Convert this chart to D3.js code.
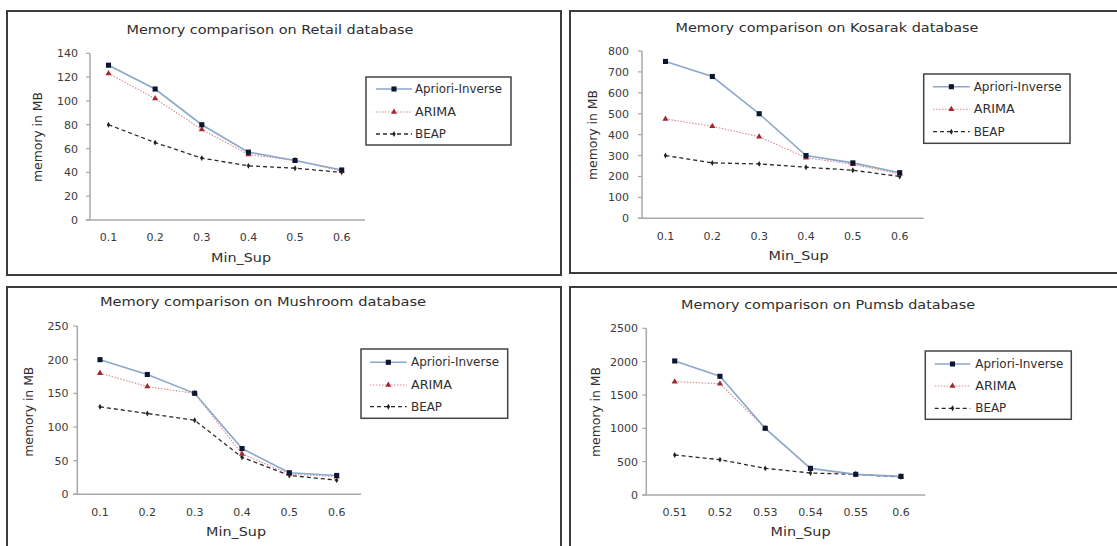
<!DOCTYPE html>
<html><head><meta charset="utf-8">
<script src="https://cdn.jsdelivr.net/npm/d3@7"></script>
<style>html,body{margin:0;padding:0;background:#fff;overflow:hidden}</style>
</head><body>
<svg id="c" width="1117" height="546"></svg>
<script>
// ---------- DATA ----------
const seriesNames = ["Apriori-Inverse", "ARIMA", "BEAP"];
const minSupA = ["0.1", "0.2", "0.3", "0.4", "0.5", "0.6"];
const minSupPumsb = ["0.51", "0.52", "0.53", "0.54", "0.55", "0.6"];

const retailApriori = [130, 110, 80, 57, 50, 42];
const retailArima   = [123, 102, 76, 55, 50, 41];
const retailBeap    = [80, 65, 52, 45.5, 43.5, 40];
const retailTicks   = [0, 20, 40, 60, 80, 100, 120, 140];

const kosarakApriori = [750, 678, 500, 300, 265, 218];
const kosarakArima   = [475, 440, 390, 290, 258, 212];
const kosarakBeap    = [300, 265, 260, 244, 230, 200];
const kosarakTicks   = [0, 100, 200, 300, 400, 500, 600, 700, 800];

const mushroomApriori = [200, 178, 150, 68, 32, 28];
const mushroomArima   = [180, 160, 150, 60, 30, 26];
const mushroomBeap    = [130, 120, 110, 55, 28, 21];
const mushroomTicks   = [0, 50, 100, 150, 200, 250];

const pumsbApriori = [2010, 1780, 1000, 400, 310, 280];
const pumsbArima   = [1700, 1670, 1000, 390, 310, 275];
const pumsbBeap    = [600, 530, 400, 330, 310, 270];
const pumsbTicks   = [0, 500, 1000, 1500, 2000, 2500];

const titles = ["Memory comparison on Retail database", "Memory comparison on Kosarak database",
                "Memory comparison on Mushroom database", "Memory comparison on Pumsb database"];

// ---------- LAYOUT ----------
const panels = [
  {title: titles[0], cats: minSupA, series: [retailApriori, retailArima, retailBeap], ticks: retailTicks,
   box: [7, 11, 554, 264], yAxisX: 90, xEnd: 365, pts: [108.5, 341.7], y: [220, 53.3], tickLabX: 78,
   titleP: [270, 29, 287], yLab: [37, 137, 90], xLab: [241, 257, 60], tickY: 237,
   leg: [366, 77, 145, 68], legY: [89, 112, 134], legLine: [376, 412], legText: 415, legLen: [87, 41, 31]},
  {title: titles[1], cats: minSupA, series: [kosarakApriori, kosarakArima, kosarakBeap], ticks: kosarakTicks,
   box: [570, 11, 600, 262], yAxisX: 642, xEnd: 923.7, pts: [665.5, 899.7], y: [218.3, 51], tickLabX: 629,
   titleP: [827, 27, 303], yLab: [592, 135, 90], xLab: [798.5, 255, 60], tickY: 235.7,
   leg: [923.7, 74, 146.3, 69.3], legY: [86.7, 109.3, 131.7], legLine: [933, 969.7], legText: 973.7, legLen: [88, 41, 31]},
  {title: titles[2], cats: minSupA, series: [mushroomApriori, mushroomArima, mushroomBeap], ticks: mushroomTicks,
   box: [7, 287, 554, 300], yAxisX: 77.3, xEnd: 361, pts: [100, 336.7], y: [494.3, 326], tickLabX: 68.5,
   titleP: [263, 301.7, 326], yLab: [28.3, 411.7, 90], xLab: [236, 531.7, 60], tickY: 512.3,
   leg: [361, 349, 146.7, 69.3], legY: [362.3, 385, 406.7], legLine: [370, 406.7], legText: 411, legLen: [88, 41, 31]},
  {title: titles[3], cats: minSupPumsb, series: [pumsbApriori, pumsbArima, pumsbBeap], ticks: pumsbTicks,
   box: [570, 287, 600, 300], yAxisX: 646.3, xEnd: 925.3, pts: [674.7, 901], y: [495, 328.3], tickLabX: 638,
   titleP: [828, 304.3, 294], yLab: [595.3, 412, 90], xLab: [800.5, 531.7, 60], tickY: 512.3,
   leg: [925.3, 351, 146, 68.3], legY: [364, 386, 408.3], legLine: [934.7, 970.3], legText: 975.3, legLen: [88, 41, 31]}
];

const styles = [
  {stroke: "#8aa7cc", width: 1.6, dash: null, marker: "square", mfill: "#0b1630", msize: 26},
  {stroke: "#d98b8f", width: 1.1, dash: "1.5,1.5", marker: "triangle", mfill: "#a3262c", msize: 16},
  {stroke: "#2a2a2a", width: 1.3, dash: "4,3", marker: "diamond", mfill: "#222", msize: 10}
];
const symbolType = {square: d3.symbolSquare, triangle: d3.symbolTriangle, diamond: d3.symbolDiamond};

const FONT = "'DejaVu Sans', 'Open Sans', sans-serif";
const svg = d3.select("#c");

panels.forEach(p => {
  const g = svg.append("g");
  g.append("rect").attr("x", p.box[0]).attr("y", p.box[1]).attr("width", p.box[2]).attr("height", p.box[3])
    .attr("fill", "none").attr("stroke", "#3c3c3c").attr("stroke-width", 2);

  const x = d3.scalePoint().domain(p.cats).range(p.pts);
  const y = d3.scaleLinear().domain([0, p.ticks[p.ticks.length - 1]]).range(p.y);

  g.append("line").attr("x1", p.yAxisX).attr("x2", p.yAxisX).attr("y1", y(0)).attr("y2", y.range()[1])
    .attr("stroke", "#a8a8a8").attr("stroke-width", 1.5);
  g.append("line").attr("x1", p.yAxisX - 4).attr("x2", p.xEnd).attr("y1", y(0)).attr("y2", y(0))
    .attr("stroke", "#a8a8a8").attr("stroke-width", 1.5);
  p.ticks.forEach(t => {
    g.append("line").attr("x1", p.yAxisX - 4).attr("x2", p.yAxisX).attr("y1", y(t)).attr("y2", y(t))
      .attr("stroke", "#a8a8a8").attr("stroke-width", 1.2);
    g.append("text").attr("x", p.tickLabX).attr("y", y(t)).attr("dy", "0.36em")
      .attr("text-anchor", "end").attr("font-family", FONT).attr("font-size", 11)
      .attr("fill", "#3a3a3a").text(t);
  });
  p.cats.forEach(c => {
    g.append("text").attr("x", x(c)).attr("y", p.tickY).attr("dy", "0.36em")
      .attr("text-anchor", "middle").attr("font-family", FONT).attr("font-size", 11)
      .attr("fill", "#3a3a3a").text(c);
  });
  g.append("text").attr("x", p.titleP[0]).attr("y", p.titleP[1]).attr("dy", "0.36em")
    .attr("text-anchor", "middle").attr("font-family", FONT).attr("font-size", 13)
    .attr("fill", "#2e2e2e").attr("textLength", p.titleP[2]).attr("lengthAdjust", "spacingAndGlyphs").text(p.title);
  g.append("text").attr("transform", `translate(${p.yLab[0]},${p.yLab[1]}) rotate(-90)`).attr("dy", "0.36em")
    .attr("text-anchor", "middle").attr("font-family", FONT).attr("font-size", 12.5)
    .attr("fill", "#2e2e2e").attr("textLength", p.yLab[2]).attr("lengthAdjust", "spacingAndGlyphs").text("memory in MB");
  g.append("text").attr("x", p.xLab[0]).attr("y", p.xLab[1]).attr("dy", "0.36em")
    .attr("text-anchor", "middle").attr("font-family", FONT).attr("font-size", 13)
    .attr("fill", "#2e2e2e").attr("textLength", p.xLab[2]).attr("lengthAdjust", "spacingAndGlyphs").text("Min_Sup");

  [2, 1, 0].forEach(si => {
    const s = styles[si];
    const vals = p.series[si];
    const line = d3.line().x((d, i) => x(p.cats[i])).y(d => y(d));
    g.append("path").attr("d", line(vals)).attr("fill", "none").attr("stroke", s.stroke)
      .attr("stroke-width", s.width).attr("stroke-dasharray", s.dash);
    vals.forEach((d, i) => {
      g.append("path").attr("d", d3.symbol().type(symbolType[s.marker]).size(s.msize)())
        .attr("transform", `translate(${x(p.cats[i])},${y(d)})`).attr("fill", s.mfill);
    });
  });

  g.append("rect").attr("x", p.leg[0]).attr("y", p.leg[1]).attr("width", p.leg[2]).attr("height", p.leg[3])
    .attr("fill", "#fff").attr("stroke", "#444").attr("stroke-width", 1.5);
  seriesNames.forEach((n, si) => {
    const s = styles[si];
    const ly = p.legY[si];
    g.append("line").attr("x1", p.legLine[0]).attr("x2", p.legLine[1]).attr("y1", ly).attr("y2", ly)
      .attr("stroke", s.stroke).attr("stroke-width", s.width).attr("stroke-dasharray", s.dash);
    g.append("path").attr("d", d3.symbol().type(symbolType[s.marker]).size(s.msize)())
      .attr("transform", `translate(${(p.legLine[0] + p.legLine[1]) / 2},${ly})`).attr("fill", s.mfill);
    g.append("text").attr("x", p.legText).attr("y", ly).attr("dy", "0.36em")
      .attr("font-family", FONT).attr("font-size", 11.5).attr("fill", "#2e2e2e")
      .attr("textLength", p.legLen[si]).attr("lengthAdjust", "spacingAndGlyphs").text(n);
  });
});
</script>
</body></html>
